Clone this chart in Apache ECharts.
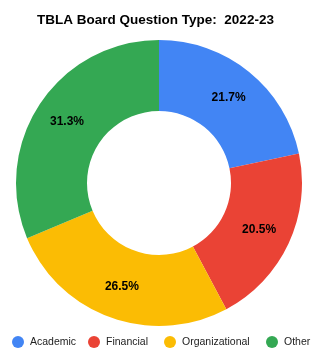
<!DOCTYPE html>
<html>
<head>
<meta charset="utf-8">
<script src="https://cdn.jsdelivr.net/npm/echarts@6/dist/echarts.min.js"></script>
<style>
  html, body { margin: 0; padding: 0; background: #fff; }
  #chart { width: 311px; height: 352px; }
</style>
</head>
<body>
<div id="chart"></div>
<script>
// data
const categories = ['Academic', 'Financial', 'Organizational', 'Other'];
const shares = [21.7, 20.5, 26.5, 31.3];
const colors = ['#4285F4', '#EA4335', '#FBBC04', '#34A853'];
// left edge of each legend entry (px)
const legendLeft = [12, 88, 164, 266];

const FONT = '"Liberation Sans", Arial, sans-serif';

const chart = echarts.init(document.getElementById('chart'));

// one legend per entry so they sit on one row like the original
const legends = categories.map((c, i) => ({
    data: [c],
    left: legendLeft[i],
    top: 336,
    padding: 0,
    icon: 'circle',
    itemWidth: 12,
    itemHeight: 12,
    itemGap: 0,
    textStyle: { fontFamily: FONT, fontSize: 10.5, color: '#222', padding: [0, 0, 0, 1] }
}));

chart.setOption({
    animation: false,
    color: colors,
    title: {
        text: 'TBLA Board Question Type:  2022-23',
        left: 'center',
        top: 8,
        textStyle: { fontFamily: FONT, fontSize: 13.5, fontWeight: 'bold', color: '#000' }
    },
    legend: legends,
    series: [{
        type: 'pie',
        center: [159, 183],
        radius: [72, 143],
        startAngle: 90,
        clockwise: true,
        label: {
            show: true,
            position: 'inside',
            formatter: p => p.value.toFixed(1) + '%',
            fontFamily: FONT,
            fontSize: 12,
            fontWeight: 'bold',
            color: '#000'
        },
        labelLine: { show: false },
        itemStyle: { borderWidth: 0 },
        data: categories.map((c, i) => ({ name: c, value: shares[i] }))
    }]
});
</script>
</body>
</html>
